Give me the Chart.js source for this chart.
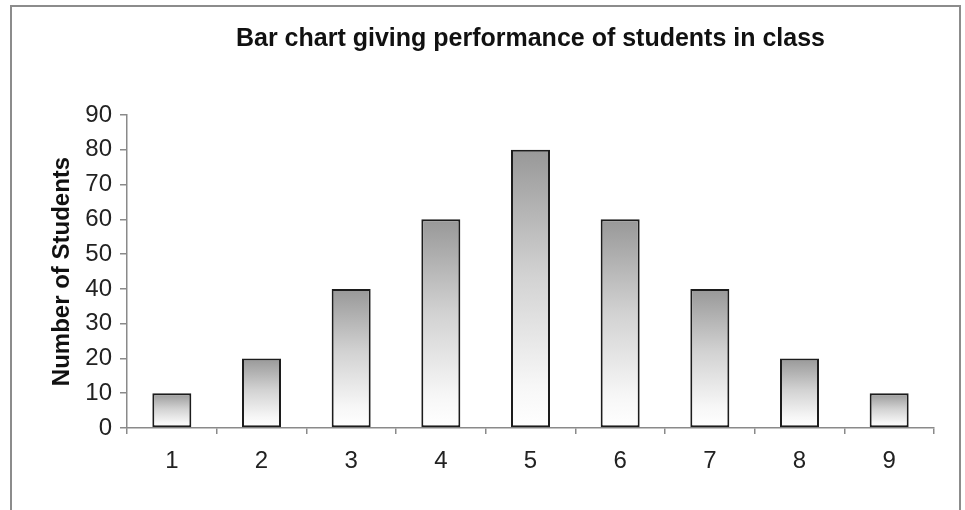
<!DOCTYPE html>
<html>
<head>
<meta charset="utf-8">
<script src="https://cdn.jsdelivr.net/npm/chart.js@4.4.1/dist/chart.umd.min.js"></script>
<style>
  html, body { margin: 0; padding: 0; background: #ffffff; overflow: hidden; }
  #wrap { position: relative; width: 965px; height: 510px; }
  #frame {
    position: absolute; left: 10px; top: 5px; width: 951px; height: 600px;
    box-sizing: border-box; border: 2px solid #8c8c8c; pointer-events: none;
  }
  canvas { position: absolute; left: 0; top: 0; }
</style>
</head>
<body>
<div id="wrap">
  <canvas id="chart" width="965" height="510"></canvas>
  <div id="frame"></div>
</div>
<script>
// Grade bands and the number of students in each
const categories = ['1', '2', '3', '4', '5', '6', '7', '8', '9'];
const students = [10, 20, 40, 60, 80, 60, 40, 20, 10];
const yTicks = [0, 10, 20, 30, 40, 50, 60, 70, 80, 90];

const FONT = '"Liberation Sans", Arial, Helvetica, sans-serif';

// Each bar fades from grey at its top to white at the baseline
function barGradient(ctx) {
  const chart = ctx.chart;
  const yScale = chart.scales.y;
  if (!yScale || ctx.type !== 'data') return '#cccccc';
  const top = yScale.getPixelForValue(ctx.raw);
  const base = yScale.getPixelForValue(0);
  if (!isFinite(top) || !isFinite(base) || base === top) return '#cccccc';
  const g = chart.ctx.createLinearGradient(0, top, 0, base);
  g.addColorStop(0, '#989898');
  g.addColorStop(0.45, '#d2d2d2');
  g.addColorStop(0.85, '#f7f7f7');
  g.addColorStop(1, '#ffffff');
  return g;
}

new Chart(document.getElementById('chart'), {
  type: 'bar',
  data: {
    labels: categories,
    datasets: [{
      data: students,
      backgroundColor: barGradient,
      borderColor: '#1c1c1c',
      borderWidth: 2,
      borderSkipped: false,
      categoryPercentage: 1,
      barPercentage: 0.435
    }]
  },
  options: {
    responsive: false,
    animation: false,
    layout: { padding: { left: 40, right: 31, top: 0, bottom: 0 } },
    plugins: {
      legend: { display: false },
      tooltip: { enabled: false },
      title: {
        display: true,
        fullSize: false,
        text: 'Bar chart giving performance of students in class',
        color: '#111111',
        font: { family: FONT, size: 25, weight: 'bold' },
        padding: { top: 24, bottom: 61 }
      }
    },
    scales: {
      x: {
        offset: true,
        grid: {
          offset: true,
          drawOnChartArea: false,
          drawTicks: true,
          tickLength: 6,
          color: '#8a8a8a',
          lineWidth: 1.5
        },
        border: { color: '#8a8a8a', width: 1.5 },
        ticks: {
          color: '#222222',
          font: { family: FONT, size: 24 },
          padding: 13,
          maxRotation: 0
        },
        afterFit(scale) { scale.height = 510 - 428; }
      },
      y: {
        min: 0,
        max: 90,
        afterBuildTicks(scale) { scale.ticks = yTicks.map(v => ({ value: v })); },
        grid: {
          drawOnChartArea: false,
          drawTicks: true,
          tickLength: 7,
          color: '#8a8a8a',
          lineWidth: 1.5
        },
        border: { color: '#8a8a8a', width: 1.5 },
        ticks: {
          color: '#222222',
          font: { family: FONT, size: 24 },
          padding: 8
        },
        title: {
          display: true,
          text: 'Number of Students',
          color: '#111111',
          font: { family: FONT, size: 24, weight: 'bold' },
          padding: { top: 8, bottom: 0 }
        },
        afterFit(scale) { scale.width = 127 - 40; }
      }
    }
  }
});
</script>
</body>
</html>
